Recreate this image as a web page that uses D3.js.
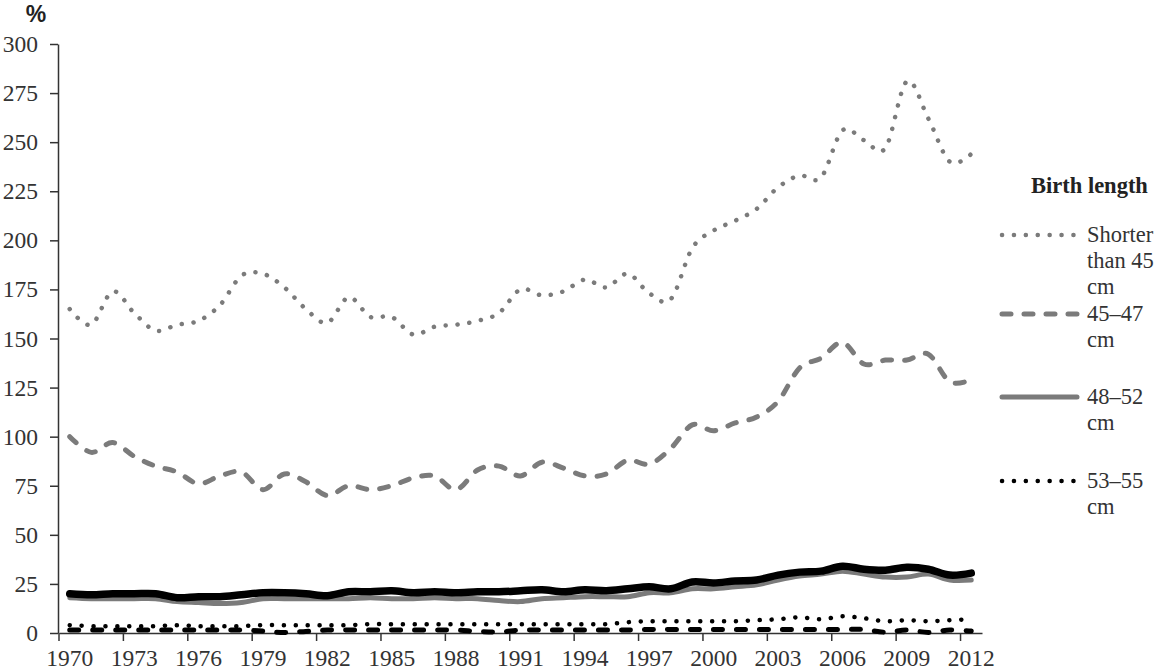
<!DOCTYPE html>
<html>
<head>
<meta charset="utf-8">
<script src="https://cdn.jsdelivr.net/npm/d3@7"></script>
<style>
  body { margin: 0; background: #fff; }
  svg { display: block; }
  .axis text { font-family: "Liberation Serif", "Times New Roman", serif; font-size: 23.5px; fill: #333; }
  .axis path, .axis line { stroke: #333; stroke-width: 1.5; }
  .legend text { font-family: "Liberation Serif", "Times New Roman", serif; font-size: 22.5px; fill: #333; }
</style>
</head>
<body>
<svg width="1166" height="672"></svg>
<script>
var years = d3.range(1970, 2013);

var seriesNames = ["Shorter than 45 cm", "45\u201347 cm", "48\u201352 cm", "53\u201355 cm", "56\u201358 cm", "59 cm or longer"];

var shorter45 = [165, 157, 174, 163, 154, 157, 159, 167, 182, 183,
                 176, 165, 158, 171, 161, 161, 152, 156, 157, 159,
                 163, 175, 172, 174, 180, 176, 183, 173, 170, 196,
                 205, 210, 216, 227, 233, 232, 256, 251, 247, 281,
                 262, 240, 244];
var len45_47 = [100, 92, 97, 90, 85, 82, 76, 80, 82, 73,
                81, 77, 70, 75, 73, 75, 79, 80, 73, 83,
                85, 80, 87, 84, 80, 81, 88, 86, 94, 106,
                103, 107, 110, 118, 135, 140, 148, 137, 139, 139,
                142, 128, 129];
var len48_52 = [18, 17.5, 17.5, 17.5, 17.5, 16, 15.5, 15, 15.5, 17.5,
                17.5, 17.5, 17.5, 17.5, 18, 17.5, 17.5, 18, 17.5, 17.5,
                16.5, 16, 17.5, 18, 18.5, 18.5, 18.5, 20.5, 20.5, 22.5,
                22.5, 23.5, 24.5, 27, 29, 30, 31.5, 30, 28.5, 28.5,
                30, 27, 27];
var len53_55 = [4, 3.5, 3.5, 3.5, 3.5, 4, 3.5, 3.5, 3.5, 4,
                4, 4, 4, 4, 4.5, 4.5, 4.5, 4.5, 4.5, 4.5,
                4.5, 4.5, 4.5, 4.5, 4.5, 4.5, 5.5, 6, 6, 6,
                6, 6, 6.5, 7, 8, 7, 8.5, 7.5, 6, 6.5,
                6, 6.5, 7];
var len56_58 = [20, 19.5, 20, 20, 20, 18, 18.5, 18.5, 19.5, 20.5,
                20.5, 20, 19, 21, 21, 21.5, 20.5, 21, 20.5, 21,
                21, 21.5, 22, 21, 22, 21.5, 22.5, 23.5, 22.5, 26,
                25.5, 26.5, 27, 29.5, 31, 31.5, 34, 32.5, 32, 33.5,
                32.5, 29.5, 30.5];
var len59plus = [1.5, 1.5, 1.5, 1.5, 1.5, 1.5, 1.5, 1.5, 1.5, 1,
                 0.2, 0.8, 1.5, 1.5, 1.5, 1.5, 1.5, 1.5, 1.5, 0.8,
                 0.5, 1.5, 1.5, 1.5, 1.5, 1.5, 1.5, 1.8, 1.8, 1.8,
                 1.8, 1.8, 1.8, 1.8, 1.8, 1.8, 1.8, 1.8, 0.4, 1.5,
                 0.3, 1.5, 1];

var yTicks = d3.range(0, 301, 25);
var xTicks = years.filter(function(d) { return (d - 1970) % 3 === 0; });

var svg = d3.select("svg");

var x = d3.scaleBand()
    .domain(years)
    .range([59, 982]);
var y = d3.scaleLinear()
    .domain([0, 300])
    .range([633, 44]);
var bw = x.bandwidth();

// line styles per series
var styles = [
    {color: "#7b7b7b", width: 4.5, dash: "0.1 11.8"},
    {color: "#7b7b7b", width: 5, dash: "9 13"},
    {color: "#7b7b7b", width: 5, dash: null},
    {color: "#000", width: 4.5, dash: "0.1 11.8"},
    {color: "#000", width: 7.5, dash: null},
    {color: "#000", width: 5, dash: "9 14"}
];
var seriesData = [shorter45, len45_47, len48_52, len53_55, len56_58, len59plus];

// Axes
svg.append("g")
    .attr("class", "axis")
    .attr("transform", "translate(58,0)")
    .call(d3.axisLeft(y).tickValues(yTicks).tickSize(8).tickSizeOuter(0).tickPadding(12));

var xAxis = svg.append("g")
    .attr("class", "axis")
    .attr("transform", "translate(0,633)")
    .call(d3.axisBottom(x).tickValues(xTicks).tickSize(8).tickSizeOuter(0).tickPadding(8));
// tick marks sit on the category boundaries, labels on the centers
xAxis.selectAll(".tick line").attr("x1", -bw / 2).attr("x2", -bw / 2);

svg.append("text")
    .attr("x", 36)
    .attr("y", 22)
    .attr("text-anchor", "middle")
    .style("font-family", "Arial, 'Liberation Sans', sans-serif")
    .style("font-weight", "bold")
    .style("font-size", "23px")
    .style("fill", "#222")
    .text("%");

var line = d3.line()
    .x(function(d, i) { return x(years[i]) + bw / 2; })
    .y(function(d) { return y(d); })
    .curve(d3.curveCardinal.tension(0));

seriesData.forEach(function(vals, k) {
    var st = styles[k];
    svg.append("path")
        .datum(vals)
        .attr("fill", "none")
        .attr("stroke", st.color)
        .attr("stroke-width", st.width)
        .attr("stroke-linecap", "round")
        .attr("stroke-linejoin", "round")
        .attr("stroke-dasharray", st.dash)
        .attr("d", line);
});

// Legend (only the first four entries are visible)
var legend = svg.append("g").attr("class", "legend");
legend.append("text")
    .attr("x", 1031)
    .attr("y", 193)
    .style("font-weight", "bold")
    .style("font-size", "22.5px")
    .style("fill", "#222")
    .text("Birth length");

var legendItems = [
    {k: 0, y: 235, lines: ["Shorter", "than 45", "cm"]},
    {k: 1, y: 314, lines: ["45\u201347", "cm"]},
    {k: 2, y: 397, lines: ["48\u201352", "cm"]},
    {k: 3, y: 481, lines: ["53\u201355", "cm"]}
];
legendItems.forEach(function(it) {
    var st = styles[it.k];
    legend.append("line")
        .attr("x1", 1002).attr("x2", 1077)
        .attr("y1", it.y).attr("y2", it.y)
        .attr("stroke", st.color)
        .attr("stroke-width", st.width)
        .attr("stroke-linecap", "round")
        .attr("stroke-dasharray", st.dash);
    var t = legend.append("text")
        .attr("x", 1087)
        .attr("y", it.y + 7);
    it.lines.forEach(function(s, j) {
        t.append("tspan")
            .attr("x", 1087)
            .attr("dy", j === 0 ? 0 : 26)
            .text(s);
    });
});
</script>
</body>
</html>
